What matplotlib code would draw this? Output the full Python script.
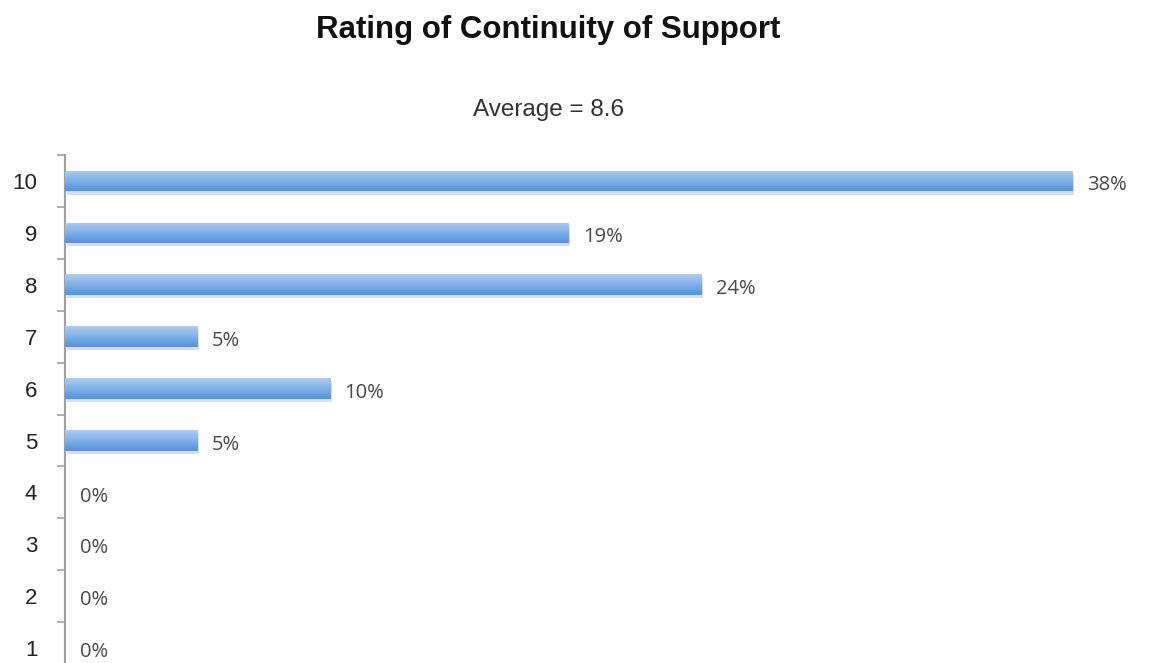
import matplotlib.pyplot as plt
import numpy as np
from matplotlib.colors import LinearSegmentedColormap

# Share of responses for each rating
ratings = [1, 2, 3, 4, 5, 6, 7, 8, 9, 10]
shares = [0, 0, 0, 0, 5, 10, 5, 24, 19, 38]
labels = ["0%", "0%", "0%", "0%", "5%", "10%", "5%", "24%", "19%", "38%"]

title = "Rating of Continuity of Support"
subtitle = "Average = 8.6"

fig = plt.figure(figsize=(11.49, 6.63), dpi=100)
ax = fig.add_axes([0.0566, -0.0166, 0.9434, 0.7826])

pos = np.arange(len(ratings))
bar_h = 0.4

# soft drop shadow under each bar
ax.barh(pos - 0.06, shares, height=bar_h, left=0.06, color="#000000",
        alpha=0.13, linewidth=0, zorder=1)
bars = ax.barh(pos, shares, height=bar_h, color="#7aaee6", linewidth=0, zorder=2)

# vertical gradient fill (light top, darker bottom)
grad = LinearSegmentedColormap.from_list("bar", ["#5690d6", "#7fb1e8", "#abcdf3"])
g = np.linspace(0, 1, 64).reshape(-1, 1)
for b in bars:
    if b.get_width() <= 0:
        continue
    x0, y0 = b.get_x(), b.get_y()
    im = ax.imshow(g, cmap=grad, aspect="auto", origin="lower",
                   extent=[x0, x0 + b.get_width(), y0, y0 + b.get_height()],
                   zorder=3)
    im.set_clip_path(b)

for p, v, lab in zip(pos, shares, labels):
    ax.text(v + 0.55, p - 0.08, lab, va="center", ha="left",
            fontsize=14.5, family="Open Sans", color="#484848")

ax.set_xlim(0, 40.9)
ax.set_ylim(-0.5, len(ratings) - 0.5)
ax.set_yticks(pos)
ax.set_yticklabels([str(r) for r in ratings], fontsize=16,
                   family="Liberation Sans", color="#222222")
ax.set_yticks(np.arange(-0.5, len(ratings), 1), minor=True)
ax.tick_params(axis="y", which="major", length=0, pad=20)
ax.tick_params(axis="y", which="minor", length=6, width=1.2, color="#a0a0a0")
ax.set_xticks([])
for side in ["top", "right", "bottom"]:
    ax.spines[side].set_visible(False)
ax.spines["left"].set_color("#a0a0a0")
ax.spines["left"].set_linewidth(1.5)

fig.text(0.477, 0.955, title, ha="center", va="center", fontsize=22.5,
         fontweight="bold", family="Liberation Sans", color="#111111")
fig.text(0.477, 0.834, subtitle, ha="center", va="center", fontsize=17.5,
         family="Liberation Sans", color="#333333")

fig.savefig("out.png", dpi=100)
